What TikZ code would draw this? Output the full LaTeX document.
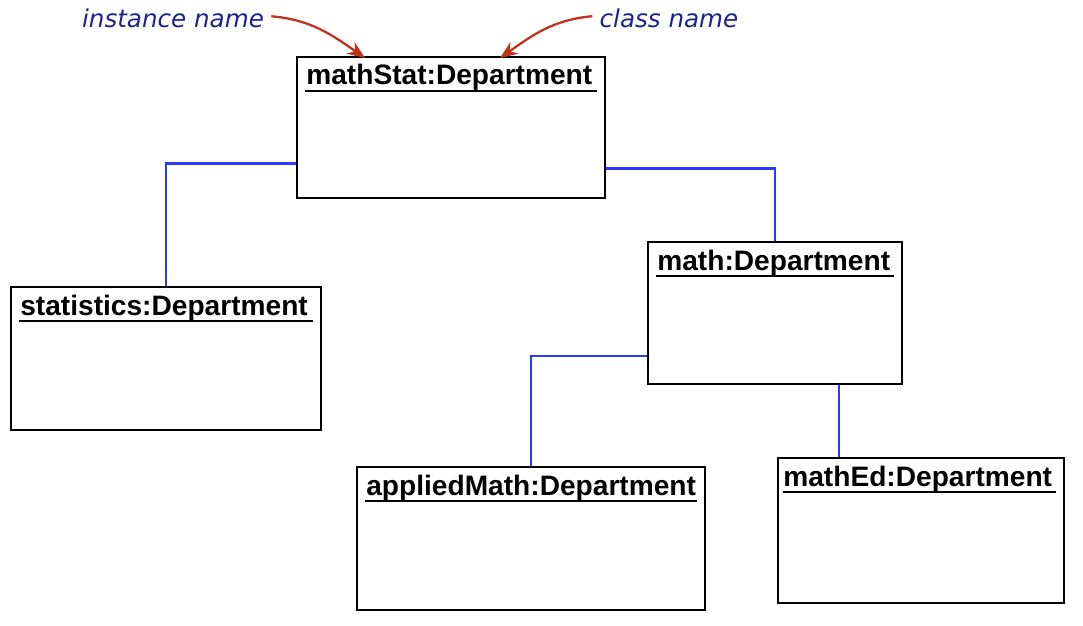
\documentclass[tikz,border=0pt]{standalone}
\usepackage{fontspec}
\setsansfont{Liberation Sans}
\newfontfamily\notefont{DejaVu Sans}
\usetikzlibrary{arrows.meta,calc}

\definecolor{linkblue}{RGB}{40,60,250}
\definecolor{noteblue}{RGB}{30,35,140}
\definecolor{notered}{RGB}{190,50,30}

\tikzset{
  dept/.style={draw, line width=1.1pt, inner sep=0pt, anchor=north west},
  depttitle/.style={font=\sffamily\bfseries\fontsize{16}{18}\selectfont, inner sep=0pt, anchor=base west},
  link/.style={linkblue, line width=1.2pt},
  note/.style={font=\notefont\itshape\fontsize{14}{16}\selectfont, text=noteblue, inner sep=0pt},
  pointer/.style={notered, line width=1.3pt, -{Stealth[length=10pt,width=8pt]}}
}

\begin{document}
\begin{tikzpicture}
        \useasboundingbox (0,0) rectangle (21.66,-12.5);

        \begin{scope}
            % department objects
            \node[dept, minimum width=6.16cm, minimum height=2.82cm] (mathStat) at (5.92,-1.12) {};
            \node[dept, minimum width=6.20cm, minimum height=2.86cm] (statistics) at (0.2,-5.72) {};
            \node[dept, minimum width=5.08cm, minimum height=2.84cm] (math) at (12.94,-4.82) {};
            \node[dept, minimum width=6.96cm, minimum height=2.86cm] (appliedMath) at (7.12,-9.32) {};
            \node[dept, minimum width=5.72cm, minimum height=2.90cm] (mathEd) at (15.54,-9.14) {};

            \node[depttitle] (mathStatName) at ($(mathStat.north west)+(0.2,-0.58)$) {mathStat:Department};
            \node[depttitle] (statisticsName) at ($(statistics.north west)+(0.2,-0.58)$) {statistics:Department};
            \node[depttitle] (mathName) at ($(math.north west)+(0.2,-0.58)$) {math:Department};
            \node[depttitle] (appliedMathName) at ($(appliedMath.north west)+(0.2,-0.58)$) {appliedMath:Department};
            \node[depttitle] (mathEdName) at ($(mathEd.north west)+(0.12,-0.58)$) {mathEd:Department};

            \draw[line width=1.1pt] ($(mathStat.north west)+(0.18,-0.7)$) -- ($(mathStat.north east)+(-0.18,-0.7)$);
            \draw[line width=1.1pt] ($(statistics.north west)+(0.18,-0.7)$) -- ($(statistics.north east)+(-0.18,-0.7)$);
            \draw[line width=1.1pt] ($(math.north west)+(0.18,-0.7)$) -- ($(math.north east)+(-0.18,-0.7)$);
            \draw[line width=1.1pt] ($(appliedMath.north west)+(0.18,-0.7)$) -- ($(appliedMath.north east)+(-0.18,-0.7)$);
            \draw[line width=1.1pt] ($(mathEd.north west)+(0.12,-0.7)$) -- ($(mathEd.north east)+(-0.18,-0.7)$);
        \end{scope}

        % links
        \draw[link] ([yshift=-0.72cm]mathStat.west) -| (statistics.north);
        \draw[link] ([yshift=-0.82cm]mathStat.east) -| (math.north);
        \draw[link] ([yshift=-0.86cm]math.west) -| (appliedMath.north);
        \draw[link] ([xshift=1.28cm]math.south) -- ([xshift=1.28cm]math.south |- mathEd.north);

        % notes
        \node[note] (instName) at (3.46,-0.36) {instance name};
        \node[note] (className) at (13.38,-0.36) {class name};
        \draw[pointer] ([xshift=4pt,yshift=1pt]instName.east) to[out=-5,in=145] ($(mathStat.north west)+(1.38,-0.04)$);
        \draw[pointer] ([xshift=-4pt,yshift=1pt]className.west) to[out=185,in=35] ($(mathStat.north west)+(4.08,-0.04)$);
\end{tikzpicture}
\end{document}
